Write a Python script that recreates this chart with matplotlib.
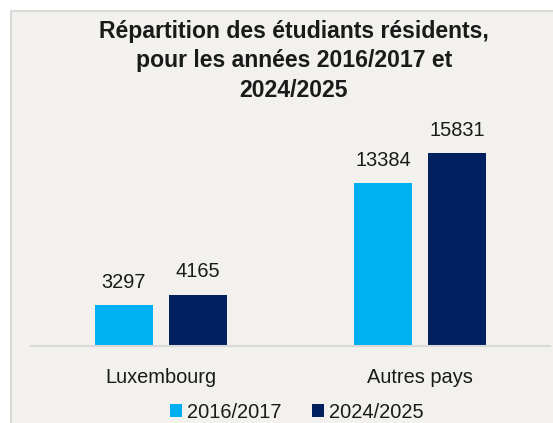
import numpy as np
import matplotlib
matplotlib.use("Agg")
import matplotlib.pyplot as plt
from matplotlib.patches import Rectangle

# Chart data
categories = ["Luxembourg", "Autres pays"]
years = ["2016/2017", "2024/2025"]
values_2016 = [3297, 13384]
values_2024 = [4165, 15831]

colors = ["#00B0F0", "#002060"]
panel_bg = "#F2F1ED"
border_col = "#D9D9D9"
text_col = "#1A1A1A"

plt.rcParams["font.family"] = ["Liberation Sans", "DejaVu Sans"]

W, H = 553, 423
fig = plt.figure(figsize=(W / 100, H / 100), dpi=100)
fig.patch.set_facecolor("white")

# Grey panel with light border (left and top visible)
panel = Rectangle((11 / W, -0.05), 1.1, (H - 11) / H + 0.05,
                  transform=fig.transFigure, facecolor=panel_bg,
                  edgecolor=border_col, linewidth=1.5, zorder=-10)
fig.patches.append(panel)

# Axes placed so the baseline sits where the reference has it
ax = fig.add_axes([31 / W, (H - 345.5) / H, (550 - 31) / W, 218.4 / H])
ax.set_facecolor("none")
ax.set_zorder(5)

x = np.arange(len(categories))
width = 0.223
offset = 0.1423

bars1 = ax.bar(x - offset, values_2016, width, color=colors[0], label=years[0])
bars2 = ax.bar(x + offset, values_2024, width, color=colors[1], label=years[1])

# Value labels above the bars
for bars in (bars1, bars2):
    for b in bars:
        ax.annotate(f"{int(b.get_height())}",
                    (b.get_x() + b.get_width() / 2, b.get_height()),
                    xytext=(0, 12.6), textcoords="offset points",
                    ha="center", va="baseline", fontsize=14.4, color=text_col,
                    annotation_clip=False)

ax.set_xlim(-0.5, 1.5)
ax.set_ylim(0, 18000)
ax.set_xticks(x)
ax.set_xticklabels(categories, fontsize=14.4, color=text_col)
ax.tick_params(axis="x", length=0, pad=16)
ax.set_yticks([])
for s in ["top", "left", "right"]:
    ax.spines[s].set_visible(False)
ax.spines["bottom"].set_color(border_col)
ax.spines["bottom"].set_linewidth(1.5)

# Title
fig.text(294 / W, 1 - 61 / H,
         "Répartition des étudiants résidents,\npour les années 2016/2017 et\n2024/2025",
         ha="center", va="center", fontsize=16.6, fontweight="bold",
         color=text_col, linespacing=1.36, zorder=6)

# Legend at the bottom
leg = fig.legend(handles=[bars1, bars2], labels=years, loc="center",
                 bbox_to_anchor=(297 / W, 11 / H), ncol=2, frameon=False,
                 fontsize=14.4, handlelength=0.6, handleheight=0.6,
                 handletextpad=0.25, columnspacing=1.55, labelcolor=text_col)
leg.set_zorder(6)

fig.savefig("out.png", dpi=100, facecolor=fig.get_facecolor())
